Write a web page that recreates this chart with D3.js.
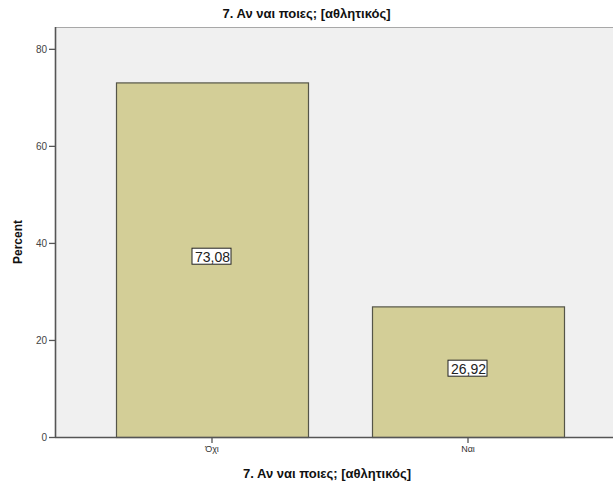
<!DOCTYPE html>
<html>
<head>
<meta charset="utf-8">
<script src="https://cdn.jsdelivr.net/npm/d3@7"></script>
<style>
  html, body { margin: 0; padding: 0; background: #ffffff; }
  svg { display: block; font-family: Arial, "Liberation Sans", sans-serif; }
</style>
</head>
<body>
<svg id="chart" width="613" height="485"></svg>
<script>
const title = "7. Αν ναι ποιες; [αθλητικός]";
const xTitle = "7. Αν ναι ποιες; [αθλητικός]";
const yTitle = "Percent";
const categories = ["Όχι", "Ναι"];
const values = [73.08, 26.92];
const valueLabels = ["73,08", "26,92"];
const yTicks = [0, 20, 40, 60, 80];

const svg = d3.select("#chart");
const W = 613, H = 485;
const plot = { left: 55, right: 613, top: 27, bottom: 437 };

const y = d3.scaleLinear().domain([0, 84.5]).range([plot.bottom, plot.top]);
const x = d3.scaleBand().domain(categories).range([84, 596])
  .paddingInner(0.25).paddingOuter(0.125);

// plot background
svg.append("rect")
  .attr("x", plot.left).attr("y", plot.top)
  .attr("width", plot.right - plot.left).attr("height", plot.bottom - plot.top)
  .attr("fill", "#f0f0f0");
svg.append("line")
  .attr("x1", plot.left).attr("x2", plot.right)
  .attr("y1", plot.top + 0.5).attr("y2", plot.top + 0.5)
  .attr("stroke", "#a8a8a8").attr("stroke-width", 1);

// bars
svg.selectAll("rect.bar").data(values).enter().append("rect")
  .attr("class", "bar")
  .attr("x", (d, i) => x(categories[i]) + 0.5)
  .attr("y", d => y(d) + 0.5)
  .attr("width", x.bandwidth())
  .attr("height", d => y(0) - y(d))
  .attr("fill", "#d3ce97")
  .attr("stroke", "#555548").attr("stroke-width", 1.2);

// value labels with boxes
const lab = svg.selectAll("g.lab").data(values).enter().append("g").attr("class", "lab")
  .attr("transform", (d, i) => `translate(${x(categories[i]) + x.bandwidth() / 2 + 0.5},${(y(d) + y(0)) / 2 - 3})`);
lab.append("text")
  .attr("text-anchor", "middle").attr("dy", "0.36em")
  .attr("font-size", 14).attr("fill", "#222")
  .text((d, i) => valueLabels[i]);
lab.each(function () {
  const g = d3.select(this);
  const bb = g.select("text").node().getBBox();
  g.insert("rect", "text")
    .attr("x", Math.round(bb.x) - 2.5).attr("y", -8.5)
    .attr("width", Math.round(bb.width) + 4).attr("height", 16)
    .attr("fill", "#ffffff").attr("stroke", "#222").attr("stroke-width", 1);
});

// y axis
const yAxis = d3.axisLeft(y).tickValues(yTicks).tickSize(6).tickPadding(2).tickFormat(d3.format("d"));
const gy = svg.append("g").attr("transform", `translate(${plot.left},0)`).call(yAxis);
gy.select(".domain").attr("stroke", "#555").attr("stroke-width", 1.6)
  .attr("d", `M0.5,${plot.top}V${plot.bottom}`);
gy.selectAll(".tick line").attr("stroke", "#555").attr("stroke-width", 1.3);
gy.selectAll(".tick text").attr("font-size", 10).attr("fill", "#444")
  .attr("font-family", "Arial, 'Liberation Sans', sans-serif");

// x axis
const xAxis = d3.axisBottom(x).tickSize(6).tickPadding(3);
const gx = svg.append("g").attr("transform", `translate(0,${plot.bottom})`).call(xAxis);
gx.select(".domain").attr("stroke", "#555").attr("stroke-width", 1.6)
  .attr("d", `M${plot.left},0.5H${plot.right}`);
gx.selectAll(".tick line").attr("stroke", "#555").attr("stroke-width", 1.3);
gx.selectAll(".tick text").attr("font-size", 9).attr("fill", "#333")
  .attr("font-family", "Arial, 'Liberation Sans', sans-serif");

// titles
svg.append("text").attr("x", 306.5).attr("y", 18)
  .attr("text-anchor", "middle").attr("font-size", 13).attr("font-weight", "bold")
  .attr("fill", "#111").text(title);
svg.append("text").attr("x", 327).attr("y", 478)
  .attr("text-anchor", "middle").attr("font-size", 13).attr("font-weight", "bold")
  .attr("fill", "#111").text(xTitle);
svg.append("text").attr("transform", "translate(22,242) rotate(-90)")
  .attr("text-anchor", "middle").attr("font-size", 12).attr("font-weight", "bold")
  .attr("fill", "#111").text(yTitle);
</script>
</body>
</html>
